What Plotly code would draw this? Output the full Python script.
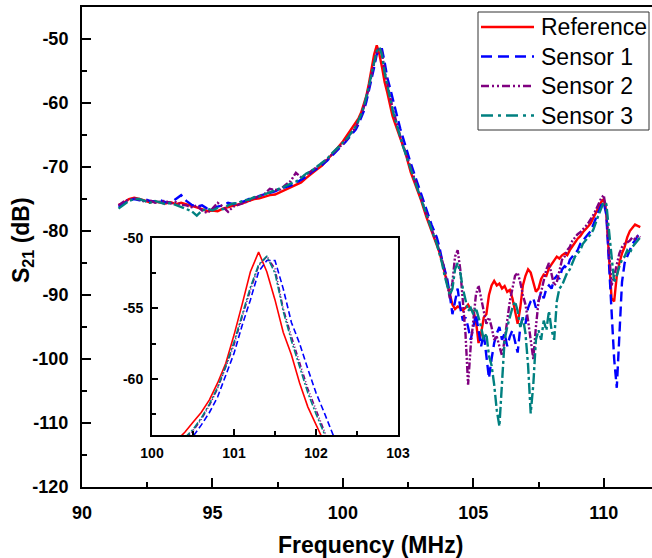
import numpy as np
import plotly.graph_objects as go

# Frequency sampling grid (MHz)
freq = np.round(np.concatenate([
    np.arange(91.4, 99.81, 0.2),
    np.arange(100.0, 102.41, 0.1),
    np.arange(102.6, 103.41, 0.2),
    np.arange(103.6, 111.41, 0.1),
]), 2)

reference = [
    -75.9, -75.6, -75.0, -74.8, -75.0, -75.3, -75.5, -75.4, -75.6, -75.7,
    -75.5, -75.8, -75.6, -75.8, -76.1, -76.3, -76.6, -76.9, -76.8, -76.9,
    -76.5, -76.3, -76.0, -75.8, -75.6, -75.3, -75.0, -74.9, -74.6, -74.4,
    -74.3, -73.9, -73.6, -73.2, -72.8, -72.4, -71.7, -71.0, -70.4, -69.8,
    -68.9, -67.9, -67.0,
    -66.0, -65.4, -64.9, -64.4, -63.8, -63.1, -62.4, -61.5, -60.3, -58.9,
    -56.9, -54.7, -52.4, -51.0, -52.4, -54.4, -56.7, -58.3, -60.3, -62.0,
    -63.2, -64.3, -65.5, -66.7, -67.8,
    -70.8, -73.0, -75.2, -77.8, -80.0,
    -82.0, -83.3, -84.8, -86.5,
    -88.0, -89.5, -91.5, -92.2, -91.8, -92.0, -92.4, -92.0, -91.5, -92.3,
    -92.5, -94.0, -97.5, -96.0, -93.5, -93.0, -90.0, -88.5, -87.8, -88.5,
    -88.2, -89.0, -88.6, -89.5, -89.2, -90.5, -92.5, -94.5, -92.0, -88.5,
    -87.0, -86.0, -86.5, -88.0, -89.5, -89.0, -87.5, -86.8, -87.0, -85.8,
    -85.2, -84.5, -84.0, -84.3, -83.8, -83.5, -83.8, -83.0, -82.3, -81.8,
    -81.2, -80.8, -80.2, -79.8, -79.3, -78.8, -78.0, -77.2, -76.3, -75.5,
    -75.0, -77.0, -84.0, -90.5, -91.0, -87.0, -85.0, -83.5, -82.5, -81.0,
    -80.0, -79.5, -79.0, -79.2, -79.4,
]

sensor1 = [
    -76.2, -75.7, -75.2, -75.0, -75.2, -75.0, -75.3, -75.4, -75.2, -75.5,
    -75.6, -75.0, -74.4, -75.3, -75.9, -76.2, -76.0, -76.5, -76.6, -76.2,
    -76.0, -75.6, -75.8, -75.5, -75.4, -75.0, -74.9, -74.5, -74.3, -74.0,
    -73.8, -73.4, -73.2, -72.9, -72.5, -72.0, -71.5, -70.8, -70.3, -69.7,
    -69.0, -68.2, -67.3,
    -66.6, -66.1, -65.6, -65.1, -64.6, -64.1, -63.3, -62.4, -61.3, -59.8,
    -58.2, -56.2, -54.4, -52.4, -51.6, -51.6, -53.6, -56.0, -57.5, -59.3,
    -61.0, -62.4, -64.0, -65.4, -66.8,
    -69.4, -71.8, -74.2, -76.6, -79.0,
    -81.0, -82.5, -84.5, -86.0,
    -87.5, -90.0, -93.0, -91.0, -89.0, -92.0, -94.0, -93.5, -95.0, -97.0,
    -95.0, -93.0, -95.5, -98.0, -96.0, -99.5, -103.0, -100.0, -97.5, -96.0,
    -95.0, -97.0, -96.0, -98.0, -96.5, -95.5, -97.5, -99.0, -95.0, -93.5,
    -94.5, -92.0, -91.0, -90.5, -92.0, -91.0, -89.5, -90.5, -89.0, -88.5,
    -89.0, -87.5, -87.0, -87.5, -86.0, -85.5, -85.8, -84.5, -84.0, -83.5,
    -83.0, -82.0, -81.5, -81.0, -80.5, -80.0, -79.0, -78.0, -77.0, -76.0,
    -75.5, -77.5, -85.0, -93.0, -100.0, -104.5, -95.0, -88.0, -85.0, -84.0,
    -83.0, -82.0, -81.5, -80.8, -80.5,
]

sensor2 = [
    -76.0, -75.4, -75.1, -74.9, -75.1, -75.4, -75.2, -75.6, -75.4, -75.3,
    -75.7, -75.5, -75.9, -76.0, -76.3, -76.0, -76.8, -77.2, -76.5, -75.6,
    -76.2, -77.0, -76.2, -75.9, -75.5, -75.3, -74.8, -74.6, -74.2, -73.4,
    -73.6, -73.5, -72.8, -72.2, -70.9, -71.6, -71.2, -70.6, -70.0, -69.5,
    -68.8, -68.0, -67.1,
    -66.4, -65.9, -65.4, -64.9, -64.3, -63.7, -62.9, -61.9, -60.7, -59.2,
    -57.6, -55.6, -53.7, -52.0, -51.3, -52.2, -55.0, -57.0, -58.9, -60.7,
    -62.2, -63.8, -65.2, -66.5, -67.7,
    -70.2, -72.5, -74.8, -77.3, -79.7,
    -81.8, -83.0, -84.5, -86.0,
    -88.0, -90.5, -88.0, -84.0, -83.0, -86.0, -91.0, -96.0, -104.0, -98.0,
    -94.0, -90.0, -88.5, -90.5, -92.0, -94.5, -93.5, -95.0, -97.0, -96.5,
    -98.0, -99.5, -97.0, -93.5, -91.0, -89.0, -87.0, -86.5, -88.0, -90.0,
    -91.5, -94.0, -97.5, -100.0, -95.0, -91.0, -89.5, -87.5, -86.0, -85.0,
    -87.0, -88.5, -88.0, -86.0, -84.5, -84.0, -83.0, -82.5, -81.5, -81.0,
    -80.5, -80.2, -79.8, -79.3, -78.8, -78.2, -77.5, -76.7, -75.8, -74.9,
    -74.4, -77.0, -83.0, -88.5, -87.0, -85.0, -83.5, -82.5, -82.0, -81.8,
    -81.5, -81.0, -81.3, -80.8, -81.0,
]

sensor3 = [
    -76.5, -75.9, -75.3, -75.0, -75.0, -75.3, -75.6, -75.3, -75.6, -75.8,
    -75.6, -75.9, -76.2, -76.5, -76.9, -77.6, -76.8, -76.5, -76.8, -76.4,
    -76.6, -76.0, -75.7, -75.6, -75.2, -75.1, -74.7, -74.6, -74.3, -74.0,
    -73.6, -73.3, -73.0, -72.6, -72.3, -71.7, -71.0, -70.6, -70.0, -69.4,
    -68.7, -67.8, -67.0,
    -66.3, -65.8, -65.3, -64.8, -64.2, -63.6, -62.8, -61.8, -60.6, -59.1,
    -57.4, -55.4, -53.5, -51.9, -51.3, -52.5, -55.2, -57.3, -59.2, -61.0,
    -62.5, -64.0, -65.4, -66.7, -67.9,
    -70.4, -72.7, -75.0, -77.5, -79.8,
    -82.0, -83.5, -85.0, -87.0,
    -88.5, -90.0, -89.0, -86.0, -85.0, -86.5, -89.0, -91.0, -92.5, -92.0,
    -93.0, -92.0, -93.5, -95.0, -97.0, -96.0, -99.5, -101.0, -104.0, -108.0,
    -110.5, -104.0, -97.0, -95.0, -93.5, -92.0, -91.0, -92.5, -95.0, -93.5,
    -96.0, -101.0, -108.5, -104.0, -97.0, -95.5, -97.0, -94.0, -95.5, -92.5,
    -95.5, -97.0, -91.0, -89.0, -88.5, -87.5, -86.5, -86.0, -85.0, -84.0,
    -83.5, -83.0, -82.0, -81.5, -81.0, -80.5, -79.8, -78.5, -77.5, -76.5,
    -75.5, -75.8, -80.0, -84.5, -88.0, -87.0, -85.5, -84.5, -84.0, -83.0,
    -83.5, -82.5, -82.0, -81.5, -81.0,
]

names = ["Reference", "Sensor 1", "Sensor 2", "Sensor 3"]
colors = ["#FF0000", "#0000FF", "#800080", "#008080"]
dashes_main = ["solid", "10px,5px", "7px,2px,2px,2px,2px,2px", "11px,3px,3px,3px"]
dashes_inset = ["solid", "6px,3px", "5px,2px,1px,2px,1px,2px", "7px,2px,2px,2px"]
dashes_legend = ["solid", "11px,6px", "8px,3px,2px,3px,2px,3px", "12px,5px,3px,5px"]
series = [reference, sensor1, sensor2, sensor3]

main_xticks = [90, 95, 100, 105, 110]
main_yticks = [-120, -110, -100, -90, -80, -70, -60, -50]
inset_xticks = [100, 101, 102, 103]
inset_yticks = [-60, -55, -50]

for s in series:
    assert len(s) == len(freq), (len(s), len(freq))

fig = go.Figure()
for nm, col, ds, ys in zip(names, colors, dashes_main, series):
    fig.add_trace(go.Scatter(x=freq, y=ys, mode="lines", name=nm, showlegend=False,
                             line=dict(color=col, width=2.4, dash=ds)))
for nm, col, ds, ys in zip(names, colors, dashes_inset, series):
    fig.add_trace(go.Scatter(x=freq, y=ys, mode="lines", name=nm, showlegend=False,
                             xaxis="x2", yaxis="y2",
                             line=dict(color=col, width=1.6, dash=ds)))

FONT = "Liberation Sans, Arial, sans-serif"
tickfont = dict(family=FONT, size=18, color="black")
insetfont = dict(family=FONT, size=14, color="black")

# plot-area geometry in figure pixels (for converting legend layout to paper coords)
L, T, B, R = 82, 7, 487, 652
PW, PH = R - L, B - T


def px(xp):
    return (xp - L) / PW


def py(yp):
    return (B - yp) / PH


def bold(vals):
    return ["<b>%g</b>" % v for v in vals]


shapes = [dict(type="rect", xref="paper", yref="paper",
               x0=px(478), x1=px(649), y0=py(130), y1=py(12),
               line=dict(color="#333333", width=1), fillcolor="rgba(0,0,0,0)", layer="above")]
annotations = []
row_y = [27, 56.5, 86, 115.5]
for nm, col, ds, ry in zip(names, colors, dashes_legend, row_y):
    shapes.append(dict(type="line", xref="paper", yref="paper",
                       x0=px(481), x1=px(534), y0=py(ry), y1=py(ry),
                       line=dict(color=col, width=2.4, dash=ds)))
    annotations.append(dict(text=nm, xref="paper", yref="paper",
                            x=px(539), y=py(ry), xanchor="left", yanchor="middle",
                            showarrow=False,
                            font=dict(family=FONT, size=23, color="black")))

annotations += [
    dict(text="<b>S<sub>21</sub> (dB)</b>", xref="paper", yref="paper",
         x=px(22), y=py(240), textangle=-90, showarrow=False,
         xanchor="center", yanchor="middle",
         font=dict(family=FONT, size=23, color="black")),
    dict(text="<b>Frequency (MHz)</b>", xref="paper", yref="paper",
         x=px(370), y=py(545), showarrow=False, yanchor="middle",
         font=dict(family=FONT, size=23, color="black")),
]

fig.update_layout(
    width=652, height=558,
    margin=dict(l=L, r=0, t=T, b=558 - B),
    paper_bgcolor="white", plot_bgcolor="white",
    showlegend=False,
    shapes=shapes,
    annotations=annotations,
    xaxis=dict(range=[90, 111.85], domain=[0, 1], automargin=False,
               showgrid=False, zeroline=False,
               showline=True, linecolor="black", linewidth=2, mirror=True,
               ticks="inside", ticklen=9, tickwidth=2, tickcolor="black",
               tickmode="array", tickvals=main_xticks, ticktext=bold(main_xticks),
               tickfont=tickfont, ticklabelstandoff=8,
               minor=dict(ticks="inside", tick0=90, dtick=2.5, ticklen=5, tickwidth=2, tickcolor="black")),
    yaxis=dict(range=[-120, -45], domain=[0, 1], automargin=False,
               showgrid=False, zeroline=False,
               showline=True, linecolor="black", linewidth=2, mirror=False,
               ticks="inside", ticklen=9, tickwidth=2, tickcolor="black",
               tickmode="array", tickvals=main_yticks, ticktext=bold(main_yticks),
               tickfont=tickfont, ticklabelstandoff=8,
               minor=dict(ticks="inside", tick0=-120, dtick=5, ticklen=5, tickwidth=2, tickcolor="black")),
    xaxis2=dict(range=[100, 103], domain=[0.1228, 0.5544], anchor="y2", automargin=False,
                showgrid=False, zeroline=False,
                showline=True, linecolor="black", linewidth=2, mirror=True,
                ticks="inside", ticklen=6, tickwidth=1.5, tickcolor="black",
                tickmode="array", tickvals=inset_xticks, ticktext=bold(inset_xticks),
                tickfont=insetfont, ticklabelstandoff=4,
                minor=dict(ticks="inside", tick0=100, dtick=0.5, ticklen=4, tickwidth=1.5, tickcolor="black")),
    yaxis2=dict(range=[-64, -50], domain=[0.1083, 0.5188], anchor="x2", automargin=False,
                showgrid=False, zeroline=False,
                showline=True, linecolor="black", linewidth=2, mirror=True,
                ticks="inside", ticklen=6, tickwidth=1.5, tickcolor="black",
                tickmode="array", tickvals=inset_yticks, ticktext=bold(inset_yticks),
                tickfont=insetfont, ticklabelstandoff=4,
                minor=dict(ticks="inside", tick0=-50, dtick=2.5, ticklen=4, tickwidth=1.5, tickcolor="black")),
)

fig.write_html("out.html", config={"displayModeBar": False},
               post_script="document.body.style.margin='0px';document.body.style.overflow='hidden';")
